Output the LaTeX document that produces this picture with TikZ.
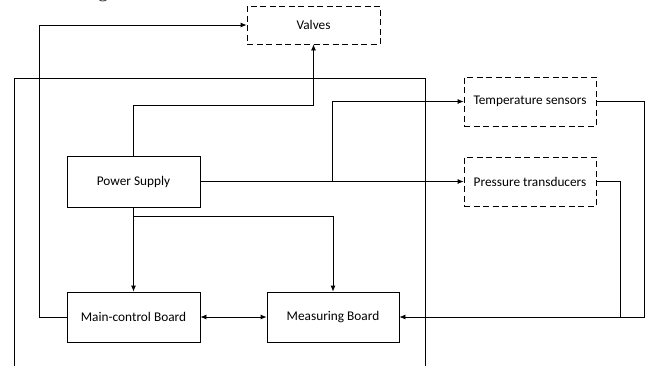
\documentclass[tikz,border=0pt]{standalone}
\usepackage{fontspec}
\setmainfont{Carlito}
\newfontfamily\titlefont{Liberation Serif}
\usetikzlibrary{arrows.meta}
\begin{document}
\begin{tikzpicture}[x=1pt,y=-1pt,
  box/.style={draw,line width=0.8pt,inner sep=0pt,minimum width=133pt,minimum height=51pt,font=\fontsize{13.3}{16}\selectfont},
  dbox/.style={box,dash pattern=on 6pt off 3.5pt},
  conn/.style={line width=0.8pt},
  arr/.style={conn,-{Latex[length=6pt,width=5pt]}},
  biarr/.style={conn,{Latex[length=6pt,width=5pt]}-{Latex[length=6pt,width=5pt]}}]
\useasboundingbox (0,0) rectangle (651,365);
\fill[white] (0,0) rectangle (651,365);
\begin{scope}
\clip (0,0) rectangle (651,365);
\node[anchor=base,font=\titlefont\fontsize{20}{24}\selectfont,text=black!85] (title) at (103,-2.5) {g};
\end{scope}
% nodes
\node[dbox,minimum width=133pt,minimum height=38pt] (valves) at (313.5,25) {Valves};
\node[dbox,minimum width=132pt,minimum height=49pt] (temp) at (530,101.5) {Temperature sensors};
\node[dbox,minimum width=132pt,minimum height=49pt] (press) at (530,181.5) {Pressure transducers};
\node[box] (ps) at (133.5,181.5) {Power Supply};
\node[box,minimum height=50pt] (mcb) at (133.5,317) {Main-control Board};
\node[box,minimum width=132pt,minimum height=50pt] (mb) at (333,317) {Measuring Board};
% frame
\coordinate (fbl) at (14,366);
\coordinate (ftr) at (425,78);
\coordinate (fbr) at (425,366);
\draw[conn] (fbl) |- (ftr) -- (fbr);
% connectors
\draw[arr] (mcb.west) -- ++(-27,0) |- (valves.west);
\draw[arr] (ps.north) -- ++(0,-50) -| (valves.south);
\draw[arr] (ps.east) -- ++(132,0) |- (temp.west);
\draw[arr] (ps.east) -- (press.west);
\draw[arr] (ps.south) -- (mcb.north);
\path (ps.south) ++(0,9) coordinate (br);
\draw[arr] (br) -| (mb.north);
\draw[biarr] (mcb.east) -- (mb.west);
\draw[arr] (temp.east) -- ++(48,0) |- (mb.east);
\path (press.east) ++(24,0) coordinate (pr);
\draw[conn] (press.east) -- (pr) -- (pr |- mb.east);
\end{tikzpicture}
\end{document}
